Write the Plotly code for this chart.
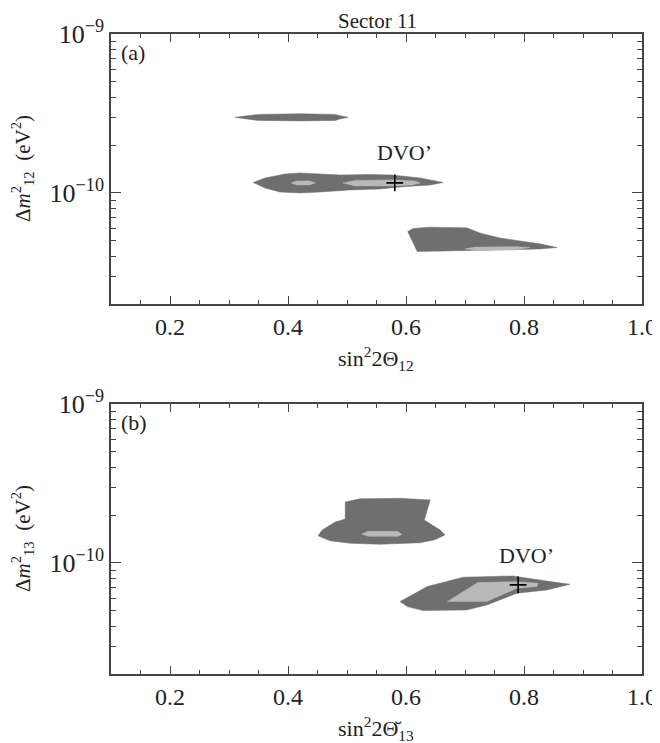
import math
import plotly.graph_objects as go

# ---------------- data ----------------
# Panel (a): sin^2 2Theta_12 vs dm^2_12 (eV^2)
a_dark1_x = [0.310, 0.327, 0.349, 0.420, 0.480, 0.488, 0.502, 0.488, 0.480, 0.420, 0.349, 0.327, 0.310]
a_dark1_y = [2.99e-10, 3.06e-10, 3.12e-10, 3.15e-10, 3.12e-10, 3.06e-10, 2.99e-10, 2.92e-10, 2.86e-10, 2.84e-10, 2.86e-10, 2.93e-10, 2.99e-10]

a_dark2_x = [0.341, 0.361, 0.395, 0.420, 0.454, 0.488, 0.539, 0.576, 0.624, 0.663,
             0.641, 0.590, 0.556, 0.505, 0.454, 0.420, 0.386, 0.361, 0.341]
a_dark2_y = [1.164e-10, 1.242e-10, 1.316e-10, 1.336e-10, 1.316e-10, 1.297e-10, 1.306e-10, 1.297e-10, 1.242e-10, 1.164e-10,
             1.122e-10, 1.091e-10, 1.059e-10, 1.044e-10, 1.014e-10, 1.000e-10, 1.014e-10, 1.074e-10, 1.164e-10]

a_light1_x = [0.405, 0.415, 0.437, 0.446, 0.437, 0.415, 0.405]
a_light1_y = [1.156e-10, 1.189e-10, 1.189e-10, 1.156e-10, 1.122e-10, 1.122e-10, 1.156e-10]

a_light2_x = [0.493, 0.514, 0.581, 0.615, 0.624, 0.610, 0.581, 0.514, 0.493]
a_light2_y = [1.156e-10, 1.199e-10, 1.208e-10, 1.189e-10, 1.156e-10, 1.122e-10, 1.107e-10, 1.107e-10, 1.156e-10]

a_dark3_x = [0.603, 0.612, 0.641, 0.703, 0.725, 0.759, 0.793, 0.827, 0.856,
             0.827, 0.793, 0.708, 0.658, 0.619, 0.603]
a_dark3_y = [5.71e-11, 5.98e-11, 6.09e-11, 6.03e-11, 5.60e-11, 5.21e-11, 4.99e-11, 4.78e-11, 4.53e-11,
             4.44e-11, 4.41e-11, 4.35e-11, 4.29e-11, 4.28e-11, 5.71e-11]

a_light3_x = [0.700, 0.717, 0.785, 0.810, 0.785, 0.717, 0.700]
a_light3_y = [4.44e-11, 4.56e-11, 4.59e-11, 4.53e-11, 4.38e-11, 4.36e-11, 4.44e-11]

a_best_x = [0.581]
a_best_y = [1.156e-10]
a_label_x = 0.598
a_label_y = 1.79e-10

# Panel (b): sin^2 2Theta~_13 vs dm^2_13 (eV^2)
b_dark1_x = [0.497, 0.522, 0.590, 0.641, 0.636, 0.631, 0.658, 0.666, 0.649, 0.624,
             0.556, 0.505, 0.471, 0.451, 0.458, 0.480, 0.497, 0.497]
b_dark1_y = [2.42e-10, 2.53e-10, 2.55e-10, 2.49e-10, 2.15e-10, 1.86e-10, 1.61e-10, 1.50e-10, 1.40e-10, 1.34e-10,
             1.31e-10, 1.33e-10, 1.38e-10, 1.48e-10, 1.61e-10, 1.81e-10, 1.89e-10, 2.42e-10]

b_light1_x = [0.525, 0.536, 0.586, 0.593, 0.586, 0.536, 0.525]
b_light1_y = [1.52e-10, 1.58e-10, 1.58e-10, 1.51e-10, 1.47e-10, 1.47e-10, 1.52e-10]

b_dark2_x = [0.590, 0.636, 0.697, 0.781, 0.856, 0.878, 0.839, 0.788, 0.737, 0.703, 0.629, 0.602, 0.590]
b_dark2_y = [5.71e-11, 7.10e-11, 8.13e-11, 8.28e-11, 7.52e-11, 7.34e-11, 6.76e-11, 6.45e-11, 5.44e-11, 5.06e-11,
             5.01e-11, 5.31e-11, 5.71e-11]

b_light2_x = [0.670, 0.722, 0.788, 0.824, 0.822, 0.788, 0.737, 0.670]
b_light2_y = [5.71e-11, 7.52e-11, 7.62e-11, 7.45e-11, 7.10e-11, 6.93e-11, 5.71e-11, 5.71e-11]

b_best_x = [0.790]
b_best_y = [7.27e-11]
b_label_x = 0.805
b_label_y = 1.12e-10

# axes
x_range = [0.1, 1.0]
x_tickvals = [0.2, 0.4, 0.6, 0.8, 1.0]
x_ticktext = ["0.2", "0.4", "0.6", "0.8", "1.0"]
y_range = [2.0e-11, 1.0e-9]
y_tickvals = [1e-10, 1e-9]
y_ticktext = ["10<sup>\u221210</sup>", "10<sup>\u22129</sup>"]
y_minor = [2e-11, 3e-11, 4e-11, 5e-11, 6e-11, 7e-11, 8e-11, 9e-11,
           2e-10, 3e-10, 4e-10, 5e-10, 6e-10, 7e-10, 8e-10, 9e-10]

title_text = "Sector 11"
xtitle_a = "sin<sup>2</sup>2\u0398<sub>12</sub>"
xtitle_b = "sin<sup>2</sup>2\u0398\u0306<sub>13</sub>"
ytitle_a = "\u0394<i>m</i><sup>2</sup><sub>12</sub>  (eV<sup>2</sup>)"
ytitle_b = "\u0394<i>m</i><sup>2</sup><sub>13</sub>  (eV<sup>2</sup>)"

DARK = "#6f6f6f"
LIGHT = "#b9b9b9"
FONT = "Liberation Serif"

fig = go.Figure()


def poly(x, y, color, xa, ya):
    fig.add_trace(go.Scatter(x=x, y=y, mode="lines", fill="toself", fillcolor=color,
                             line=dict(width=0.5, color=color), xaxis=xa, yaxis=ya,
                             hoverinfo="skip", showlegend=False))


poly(a_dark1_x, a_dark1_y, DARK, "x", "y")
poly(a_dark2_x, a_dark2_y, DARK, "x", "y")
poly(a_dark3_x, a_dark3_y, DARK, "x", "y")
poly(a_light1_x, a_light1_y, LIGHT, "x", "y")
poly(a_light2_x, a_light2_y, LIGHT, "x", "y")
poly(a_light3_x, a_light3_y, LIGHT, "x", "y")
poly(b_dark1_x, b_dark1_y, DARK, "x2", "y2")
poly(b_dark2_x, b_dark2_y, DARK, "x2", "y2")
poly(b_light1_x, b_light1_y, LIGHT, "x2", "y2")
poly(b_light2_x, b_light2_y, LIGHT, "x2", "y2")

for bx, by, xa, ya in [(a_best_x, a_best_y, "x", "y"), (b_best_x, b_best_y, "x2", "y2")]:
    fig.add_trace(go.Scatter(x=bx, y=by, mode="markers", xaxis=xa, yaxis=ya, showlegend=False,
                             marker=dict(symbol="cross-thin", size=12, line=dict(width=1.6, color="black"))))

axis_common = dict(showline=True, linecolor="#444", linewidth=1.5, mirror="ticks", ticks="inside",
                   tickcolor="#444", tickwidth=1.2, showgrid=False, zeroline=False, automargin=False)

xax = dict(axis_common, range=x_range, tickmode="array", tickvals=x_tickvals, ticktext=x_ticktext,
           ticklen=8, tickfont=dict(family=FONT, size=24, color="#222"),
           minor=dict(dtick=0.05, tick0=0.1, ticks="inside", ticklen=4, tickcolor="#444", tickwidth=1))
yax = dict(axis_common, type="log", range=[math.log10(y_range[0]), math.log10(y_range[1])],
           tickmode="array", tickvals=y_tickvals, ticktext=y_ticktext, ticklen=10,
           tickfont=dict(family=FONT, size=26, color="#222"),
           minor=dict(tickmode="array", tickvals=y_minor, ticks="inside", ticklen=5, tickcolor="#444", tickwidth=1))

# The page body adds an 8px offset; size the figure so the plot areas land where the reference has them.
OFF = 8
H = 640.0
W = 531.0
fig.update_layout(
    width=660 - OFF, height=743 - OFF,
    margin=dict(l=111 - OFF, r=18, t=34 - OFF, b=69),
    paper_bgcolor="white", plot_bgcolor="white",
    showlegend=False,
    xaxis=dict(xax, domain=[0, 1], anchor="y"),
    yaxis=dict(yax, domain=[370 / H, 1.0], anchor="x"),
    xaxis2=dict(xax, domain=[0, 1], anchor="y2"),
    yaxis2=dict(yax, domain=[0, 270 / H], anchor="x2"),
)

ann_font = dict(family=FONT, size=22, color="#222")


def pann(text, px, py, angle=0, size=22):
    return dict(text=text, x=(px - 111) / W, y=(674 - py) / H, xref="paper", yref="paper",
                xanchor="center", yanchor="middle", showarrow=False, textangle=angle,
                font=dict(ann_font, size=size))


anns = [
    pann(title_text, 377, 21, size=21),
    pann(xtitle_a, 376, 358),
    pann(xtitle_b, 376, 728),
    pann(ytitle_a, 22, 169, -90, 21),
    pann(ytitle_b, 22, 539, -90, 21),
    dict(text="(a)", x=0.015, y=0.985, xref="x domain", yref="y domain", xanchor="left", yanchor="top",
         showarrow=False, font=ann_font),
    dict(text="(b)", x=0.015, y=0.985, xref="x2 domain", yref="y2 domain", xanchor="left", yanchor="top",
         showarrow=False, font=ann_font),
    dict(text="DVO\u2019", x=a_label_x, y=math.log10(a_label_y), xref="x", yref="y", showarrow=False,
         xanchor="center", yanchor="middle", font=ann_font),
    dict(text="DVO\u2019", x=b_label_x, y=math.log10(b_label_y), xref="x2", yref="y2", showarrow=False,
         xanchor="center", yanchor="middle", font=ann_font),
]
fig.update_layout(annotations=anns)

fig.write_html("out.html")
